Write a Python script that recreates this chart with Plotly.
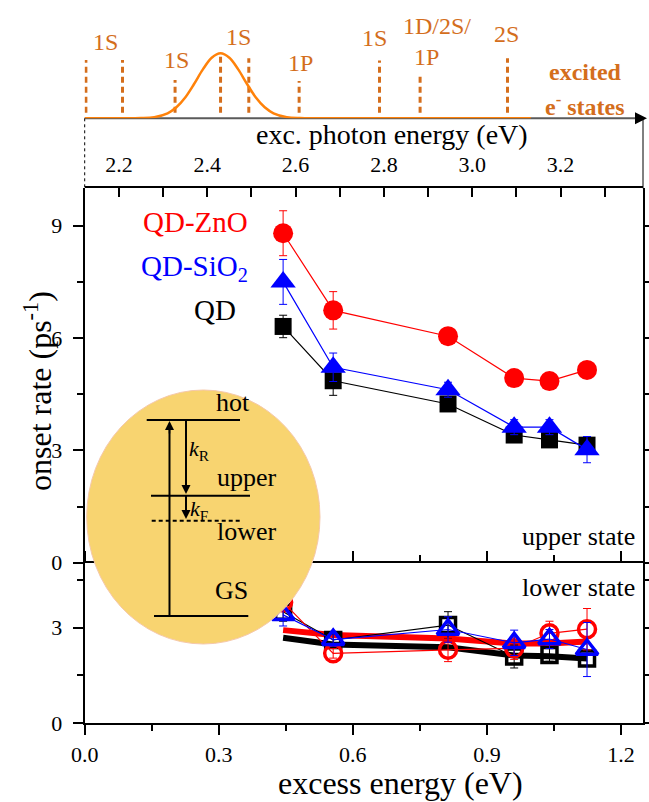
import plotly.graph_objects as go

W, H = 649, 802
def fx(px): return px / W
def fy(py): return 1 - py / H

# ---------------- data ----------------
excess = [0.444, 0.556, 0.813, 0.961, 1.040, 1.124]

upper_zno = [8.80, 6.74, 6.05, 4.93, 4.85, 5.15]
upper_zno_err = [0.60, 0.50, 0.12, 0.12, 0.12, 0.12]
upper_sio2 = [7.50, 5.22, 4.62, 3.62, 3.62, 3.02]
upper_sio2_err = [0.60, 0.38, 0.20, 0.20, 0.20, 0.35]
upper_qd = [6.31, 4.86, 4.24, 3.41, 3.28, 3.14]
upper_qd_err = [0.30, 0.39, 0.15, 0.15, 0.15, 0.15]

lower_zno = [3.80, 2.19, 2.30, 2.35, 2.82, 2.95]
lower_zno_err = [0.30, 0.15, 0.37, 0.35, 0.38, 0.65]
lower_sio2 = [3.40, 2.62, 2.94, 2.52, 2.64, 2.31]
lower_sio2_err = [0.35, 0.20, 0.40, 0.40, 0.30, 0.85]
lower_qd = [3.50, 2.61, 3.08, 2.09, 2.14, 2.03]
lower_qd_err = [0.30, 0.20, 0.42, 0.36, 0.20, 0.25]
fit_zno = [2.92, 2.77, 2.66, 2.50, 2.50, 2.56]
fit_qd = [2.68, 2.47, 2.38, 2.12, 2.10, 2.03]

# excitation spectrum
spec_e = [2.122, 2.20, 2.25, 2.28, 2.31, 2.33, 2.35, 2.37, 2.39, 2.41, 2.43,
          2.45, 2.47, 2.49, 2.51, 2.53, 2.55, 2.58, 2.61, 2.65, 3.133]
spec_i = [0.0, 0.0, 0.003, 0.018, 0.077, 0.169, 0.32, 0.527, 0.752, 0.931, 1.0,
          0.931, 0.752, 0.527, 0.32, 0.169, 0.077, 0.018, 0.003, 0.0, 0.0]

# excited electron states
state_e = [2.125, 2.208, 2.327, 2.430, 2.494, 2.608, 2.790, 2.882, 3.080]
state_top = [0.897, 0.897, 0.589, 0.948, 0.923, 0.575, 0.888, 0.643, 0.923]
state_bottom = 0.086
label_text = ["1S", "1S", "1S", "1P", "1S", "1D/2S/", "1P", "2S"]
label_e = [2.170, 2.331, 2.470, 2.610, 2.778, 2.920, 2.897, 3.077]
label_y = [1.178, 0.897, 1.255, 0.846, 1.231, 1.42, 0.948, 1.295]

xticks = [0.0, 0.3, 0.6, 0.9, 1.2]
yticks_up = [0, 3, 6, 9]
yticks_low = [0, 3]
photon_ticks = [2.2, 2.4, 2.6, 2.8, 3.0, 3.2]

FONT = "Liberation Serif"
ORANGE_T = "rgb(212,110,28)"
ORANGE_G = "rgb(255,130,10)"
RED, BLUE, BLACK = "rgb(255,0,0)", "rgb(0,0,255)", "black"

fig = go.Figure()

# ---- top panel: spectrum + states (photon-energy axis x2, own y3)
sx, sy = [], []
for e, t in zip(state_e, state_top):
    sx += [e, e, None]
    sy += [state_bottom, t, None]
fig.add_trace(go.Scatter(x=sx, y=sy, mode="lines", xaxis="x2", yaxis="y3",
                         line=dict(color=ORANGE_T, width=3, dash="6px,4px"),
                         showlegend=False, hoverinfo="skip", cliponaxis=False))
fig.add_trace(go.Scatter(x=spec_e, y=spec_i, mode="lines", xaxis="x2", yaxis="y3",
                         line=dict(color=ORANGE_G, width=2.5, shape="spline"),
                         showlegend=False, hoverinfo="skip", cliponaxis=False))

def err(arr, color):
    return dict(type="data", array=arr, visible=True, color=color, thickness=1, width=4)

# ---- upper panel (filled)
fig.add_trace(go.Scatter(x=excess, y=upper_zno, mode="lines+markers", xaxis="x", yaxis="y",
                         line=dict(color=RED, width=1.2),
                         marker=dict(symbol="circle", size=20, color=RED),
                         error_y=err(upper_zno_err, RED), showlegend=False))
fig.add_trace(go.Scatter(x=excess, y=upper_qd, mode="lines+markers", xaxis="x", yaxis="y",
                         line=dict(color=BLACK, width=1.2),
                         marker=dict(symbol="square", size=17, color=BLACK),
                         error_y=err(upper_qd_err, BLACK), showlegend=False))
fig.add_trace(go.Scatter(x=excess, y=upper_sio2, mode="lines+markers", xaxis="x", yaxis="y",
                         line=dict(color=BLUE, width=1.2),
                         marker=dict(symbol="triangle-up", size=22, color=BLUE),
                         error_y=err(upper_sio2_err, BLUE), showlegend=False))

# ---- lower panel (open)
fig.add_trace(go.Scatter(x=excess, y=fit_qd, mode="lines", xaxis="x", yaxis="y2",
                         line=dict(color=BLACK, width=6), showlegend=False))
fig.add_trace(go.Scatter(x=excess, y=fit_zno, mode="lines", xaxis="x", yaxis="y2",
                         line=dict(color=RED, width=6), showlegend=False))
fig.add_trace(go.Scatter(x=excess, y=lower_qd, mode="lines+markers", xaxis="x", yaxis="y2",
                         line=dict(color=BLACK, width=1.2),
                         marker=dict(symbol="square-open", size=15, color=BLACK, line=dict(width=3.5)),
                         error_y=err(lower_qd_err, BLACK), showlegend=False))
fig.add_trace(go.Scatter(x=excess, y=lower_zno, mode="lines+markers", xaxis="x", yaxis="y2",
                         line=dict(color=RED, width=1.2),
                         marker=dict(symbol="circle-open", size=17, color=RED, line=dict(width=3.5)),
                         error_y=err(lower_zno_err, RED), showlegend=False))
fig.add_trace(go.Scatter(x=excess, y=lower_sio2, mode="lines+markers", xaxis="x", yaxis="y2",
                         line=dict(color=BLUE, width=1.2),
                         marker=dict(symbol="triangle-up-open", size=19, color=BLUE, line=dict(width=3.5)),
                         error_y=err(lower_sio2_err, BLUE), showlegend=False))

xl, xr = 84.7, 643
xrange_ex = [0, (xr - xl) / 446.9]
prange = [2.2 - (119 - xl) / 441.5, 2.2 + (xr - 119) / 441.5]
tf = dict(family=FONT, size=22, color="black")

fig.update_layout(
    width=W, height=H, margin=dict(l=0, r=0, t=0, b=0, autoexpand=False),
    paper_bgcolor="white", plot_bgcolor="rgba(0,0,0,0)",
    font=dict(family=FONT, color="black"),
    showlegend=False,
    xaxis=dict(domain=[fx(xl), fx(xr)], range=xrange_ex, anchor="y2", automargin=False,
               tickvals=xticks, ticktext=["0.0", "0.3", "0.6", "0.9", "1.2"],
               ticks="outside", ticklen=10, tickwidth=1.5, tickcolor="black",
               minor=dict(tickvals=[0.15, 0.45, 0.75, 1.05], ticks="outside", ticklen=6, tickwidth=1.5, tickcolor="black"),
               showline=True, linewidth=2, linecolor="black", mirror="ticks",
               showgrid=False, zeroline=False, tickfont=tf, ticklabelstandoff=1),
    xaxis4=dict(domain=[fx(xl), fx(xr)], range=xrange_ex, anchor="y", overlaying="x", automargin=False,
                tickvals=xticks, showticklabels=False,
                ticks="outside", ticklen=9, tickwidth=1.5, tickcolor="black",
                showline=True, linewidth=2.5, linecolor="black",
                showgrid=False, zeroline=False),
    xaxis2=dict(domain=[fx(xl), fx(xr)], range=prange, anchor="y", side="top", automargin=False,
                tickvals=photon_ticks, ticktext=["2.2", "2.4", "2.6", "2.8", "3.0", "3.2"],
                ticks="inside", ticklen=9, tickwidth=1.5, tickcolor="black",
                minor=dict(tickvals=[2.3, 2.5, 2.7, 2.9, 3.1, 3.3], ticks="inside", ticklen=9, tickwidth=1.5, tickcolor="black"),
                showline=True, linewidth=2, linecolor="black", showticklabels=True,
                ticklabeloverflow="allow",
                showgrid=False, zeroline=False, tickfont=tf, ticklabelstandoff=6),
    yaxis=dict(domain=[fy(562.7), fy(188.3)], range=[0, 10], anchor="x", automargin=False,
               tickvals=yticks_up, ticks="outside", ticklen=10, tickwidth=1.5, tickcolor="black",
               minor=dict(tickvals=[1.5, 4.5, 7.5], ticks="outside", ticklen=6, tickwidth=1.5, tickcolor="black"),
               showline=True, linewidth=2, linecolor="black", mirror="ticks",
               showgrid=False, zeroline=False, tickfont=tf, ticklabelstandoff=6),
    yaxis2=dict(domain=[fy(723), fy(562.7)], range=[0, 5.04], anchor="x", automargin=False,
                tickvals=yticks_low, ticks="outside", ticklen=10, tickwidth=1.5, tickcolor="black",
                minor=dict(tickvals=[1.5, 4.5], ticks="outside", ticklen=6, tickwidth=1.5, tickcolor="black"),
                showline=True, linewidth=2, linecolor="black", mirror="ticks",
                showgrid=False, zeroline=False, tickfont=tf, ticklabelstandoff=6),
    yaxis3=dict(domain=[fy(118.3), fy(10)], range=[0, (118.3 - 10) / 65], anchor="x2", visible=False),
)

shapes = []
# top axis line (gray) and box edges
shapes.append(dict(type="line", xref="paper", yref="paper", x0=fx(xl), x1=fx(640), y0=fy(118.3), y1=fy(118.3),
                   line=dict(color="rgb(90,90,90)", width=2), layer="below"))
shapes.append(dict(type="line", xref="paper", yref="paper", x0=fx(xl), x1=fx(xl), y0=fy(118.3), y1=fy(188.3),
                   line=dict(color="black", width=1, dash="dot"), layer="below"))
shapes.append(dict(type="line", xref="paper", yref="paper", x0=fx(xr), x1=fx(xr), y0=fy(120), y1=fy(188.3),
                   line=dict(color="black", width=1), layer="below"))
# ellipse inset
shapes.append(dict(type="circle", xref="paper", yref="paper", x0=fx(86.7), x1=fx(320), y0=fy(644), y1=fy(390),
                   fillcolor="rgb(248,212,112)", line=dict(color="rgb(245,200,170)", width=1), layer="above"))
def hline(x0, x1, y, dash="solid"):
    shapes.append(dict(type="line", xref="paper", yref="paper", x0=fx(x0), x1=fx(x1), y0=fy(y), y1=fy(y),
                       line=dict(color="black", width=2, dash=dash), layer="above"))
hline(146.7, 240, 420)
hline(151, 250, 495.7)
hline(151.7, 241.7, 520.7, dash="4px,3px")
hline(154, 248.3, 616)
shapes.append(dict(type="line", xref="paper", yref="paper", x0=fx(169.5), x1=fx(169.5), y0=fy(616), y1=fy(430),
                   line=dict(color="black", width=2), layer="above"))
shapes.append(dict(type="line", xref="paper", yref="paper", x0=fx(186), x1=fx(186), y0=fy(420), y1=fy(485),
                   line=dict(color="black", width=2), layer="above"))
shapes.append(dict(type="line", xref="paper", yref="paper", x0=fx(186), x1=fx(186), y0=fy(496), y1=fy(510),
                   line=dict(color="black", width=2), layer="above"))
fig.update_layout(shapes=shapes)

ann = []
def arrow(xh, yh, ax, ay, color="black", width=1.5):
    ann.append(dict(xref="paper", yref="paper", x=fx(xh), y=fy(yh), ax=ax, ay=ay, showarrow=True,
                    arrowhead=2, arrowsize=1.2, arrowwidth=width, arrowcolor=color, text=""))
arrow(647, 118.3, -12, 0, color="black", width=2)
arrow(169.5, 421, 0, 14)
arrow(186, 494, 0, -14)
arrow(186, 519, 0, -12)

def txt(x, y, s, size, color="black", xanchor="center", ref="paper", angle=0):
    if ref == "paper":
        ann.append(dict(xref="paper", yref="paper", x=fx(x), y=fy(y), text=s, showarrow=False,
                        font=dict(family=FONT, size=size, color=color), xanchor=xanchor, yanchor="middle",
                        textangle=angle))
    else:
        ann.append(dict(xref="x2", yref="y3", x=x, y=y, text=s, showarrow=False,
                        font=dict(family=FONT, size=size, color=color), xanchor=xanchor, yanchor="middle"))

for s, e, yv in zip(label_text, label_e, label_y):
    txt(e, yv, s, 24, color=ORANGE_T, ref="data")
txt(585, 71.7, "<b>excited</b>", 24, color=ORANGE_T)
txt(585, 105, "<b>e<sup>-</sup> states</b>", 24, color=ORANGE_T)
txt(391.7, 134.5, "exc. photon energy (eV)", 28)

txt(250, 221.7, "QD-ZnO", 29, color=RED, xanchor="right")
txt(250, 268.3, "QD-SiO<sub>2</sub>", 29, color=BLUE, xanchor="right")
txt(238.3, 310, "QD", 29, color=BLACK, xanchor="right")
txt(637, 536.7, "upper state", 26, xanchor="right")
txt(637, 587.3, "lower state", 26, xanchor="right")

txt(233, 403, "hot", 26)
txt(246.7, 478, "upper", 26)
txt(246.7, 531.7, "lower", 26)
txt(231.7, 590, "GS", 26)
txt(199, 450, "<i>k</i><sub>R</sub>", 22)
txt(199, 510, "<i>k</i><sub>F</sub>", 22)

txt(38, 391, "onset rate (ps<sup>-1</sup>)", 32, angle=-90)
txt(400, 783, "excess energy (eV)", 32)

fig.update_layout(annotations=ann)
fig.write_html("out.html")
